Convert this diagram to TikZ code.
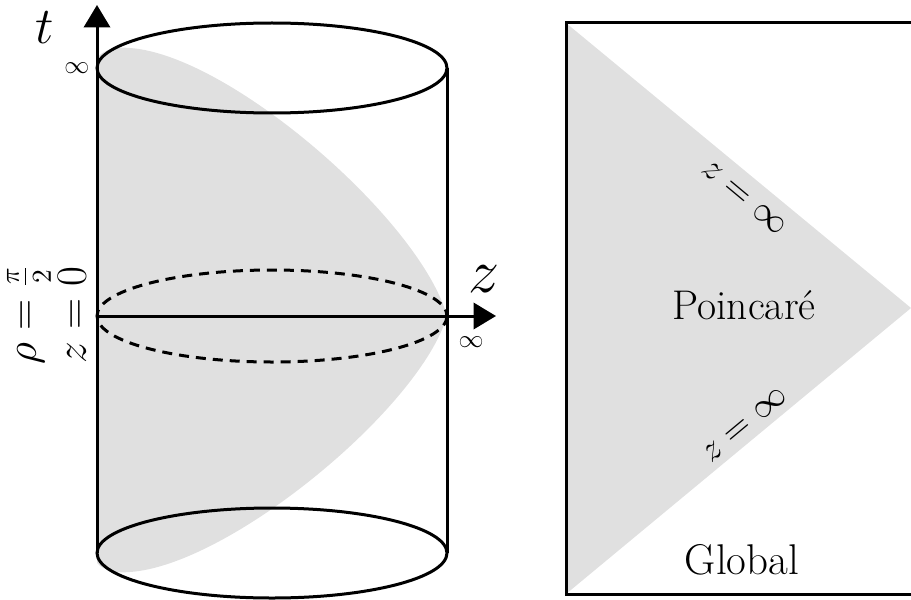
\documentclass[tikz,border=0pt]{standalone}
\usetikzlibrary{arrows.meta}
\definecolor{patch}{RGB}{224,224,224}
\begin{document}
\begin{tikzpicture}[x=0.4pt,y=-0.4pt,
  thickline/.style={line width=1.2pt},
  axisarrow/.style={line width=1.2pt,-{Triangle[length=9pt,width=10.5pt]}},
  lbl/.style={inner sep=0pt,anchor=center}]
\useasboundingbox (0,0) rectangle (911,599);
% ---------- cylinder ----------
\fill[patch] (97,58) .. controls (105,48) and (118,47) .. (130,48)
  .. controls (230,55) and (420,220) .. (447,316)
  .. controls (420,408) and (230,565) .. (130,572)
  .. controls (118,573) and (105,572) .. (97,563) -- cycle;
\coordinate (tbase) at (97,553);
\coordinate (ttip) at (97,5);
\coordinate (zbase) at (97,316);
\coordinate (ztip) at (496,316);
\coordinate (rtop) at (447,68);
\coordinate (rbot) at (447,553);
\draw[thickline] (272,68) ellipse [x radius=175, y radius=45];
\draw[thickline] (272,553) ellipse [x radius=175, y radius=45];
\draw[line width=1.2pt,dash pattern=on 4pt off 2.8pt] (272,316) ellipse [x radius=175, y radius=46];
\draw[thickline] (rtop) -- (rbot);
\draw[axisarrow] (tbase) -- (ttip);
\draw[axisarrow] (zbase) -- (ztip);
\node[lbl,font=\fontsize{21}{24}\selectfont] (tlab) at (45,28) {$t$};
\node[lbl,font=\fontsize{10}{12}\selectfont] (tinf) at (77,68) {$\infty$};
\node[lbl,font=\fontsize{25}{28}\selectfont] (zlab) at (484,279) {$z$};
\node[lbl,font=\fontsize{10}{12}\selectfont] (zinf) at (471,342) {$\infty$};
\node[lbl,rotate=90,font=\fontsize{16}{19}\selectfont] (rholab) at (29,315) {$\rho=\frac{\pi}{2}$};
\node[lbl,rotate=90,font=\fontsize{16}{19}\selectfont] (z0lab) at (72,315) {$z=0$};
% ---------- Penrose diagram ----------
\coordinate (pa) at (566,23);
\coordinate (pb) at (911,308);
\coordinate (pc) at (566,594);
\fill[patch] (pa) -- (pb) -- (pc) -- cycle;
\draw[thickline] (911,23) -- (pa) -- (pc) -- (911,594);
\node[lbl,font=\fontsize{16.6}{20}\selectfont] (poin) at (744,305) {Poincar\'e};
\node[lbl,font=\fontsize{17.2}{20}\selectfont] (glob) at (742,560) {Global};
\node[lbl,rotate=-39.8,font=\fontsize{15}{18}\selectfont] (zup) at (744,198) {$z=\infty$};
\node[lbl,rotate=39.8,font=\fontsize{15}{18}\selectfont] (zdn) at (745,425) {$z=\infty$};
\end{tikzpicture}
\end{document}
